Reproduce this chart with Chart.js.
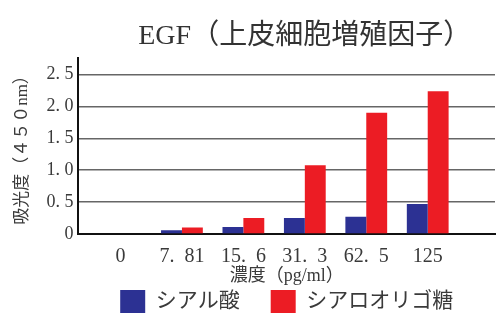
<!DOCTYPE html>
<html>
<head>
<meta charset="utf-8">
<script src="https://cdn.jsdelivr.net/npm/chart.js@4"></script>
<style>
  html, body { margin: 0; padding: 0; background: #fff; }
  #wrap { width: 504px; height: 334px; }
</style>
</head>
<body>
<div id="wrap"><canvas id="myChart"></canvas></div>
<script>
// concentrations (pg/ml)
var concLabels = ["0", "7.\u200281", "15.\u20026", "31.\u20023", "62.\u20025", "125"];
var sialicAcid = [0, 0.06, 0.11, 0.25, 0.27, 0.47];
var sialylOligo = [0, 0.1, 0.25, 1.08, 1.9, 2.24];
var yTicks = ["0", "0. 5", "1. 0", "1. 5", "2. 0", "2. 5"];
var chartTitle = "EGF（上皮細胞増殖因子）";

var fontFam = "'Liberation Serif', 'Noto Sans CJK JP', serif";
var textColor = "#3a3a3a";

function toPoints(arr) {
  return arr.map(function(v, i) { return {x: i, y: v}; });
}

// title sits a little right of the plot centre, so draw it by hand
var titlePlugin = {
  id: "offsetTitle",
  afterDraw: function(chart) {
    var c = chart.ctx;
    var area = chart.chartArea;
    c.save();
    c.font = "28px " + fontFam;
    c.fillStyle = "#333";
    c.textAlign = "center";
    c.textBaseline = "middle";
    c.fillText(chartTitle, (area.left + area.right) / 2 + 18, area.top - 21);
    c.restore();
  }
};

var ctx = document.getElementById("myChart").getContext("2d");
var myChart = new Chart(ctx, {
  type: "bar",
  data: {
    datasets: [{
      label: "シアル酸\u3000",
      data: toPoints(sialicAcid),
      backgroundColor: "#2c3193",
      borderWidth: 0,
      categoryPercentage: 0.68,
      barPercentage: 1
    }, {
      label: "シアロオリゴ糖",
      data: toPoints(sialylOligo),
      backgroundColor: "#ec1c24",
      borderWidth: 0,
      categoryPercentage: 0.68,
      barPercentage: 1
    }]
  },
  plugins: [titlePlugin],
  options: {
    responsive: true,
    maintainAspectRatio: false,
    animation: false,
    layout: { padding: { left: 12, right: 9, top: 58, bottom: 11 } },
    plugins: {
      title: { display: false },
      legend: {
        position: "bottom",
        fullSize: false,
        labels: {
          color: textColor,
          font: { family: fontFam, size: 21 },
          boxWidth: 25,
          boxHeight: 23,
          padding: 10
        }
      },
      tooltip: { enabled: false }
    },
    scales: {
      x: {
        type: "linear",
        min: -0.12,
        max: 5.53,
        grid: { display: false, drawTicks: false },
        border: { display: true, color: "#111", width: 2 },
        ticks: {
          stepSize: 1,
          includeBounds: false,
          maxRotation: 0,
          color: textColor,
          font: { family: fontFam, size: 20, lineHeight: 1 },
          padding: 13,
          callback: function(v) { return concLabels[v]; }
        },
        title: {
          display: true,
          text: "濃度（pg/ml）",
          color: textColor,
          font: { family: fontFam, size: 18, lineHeight: 1 },
          padding: { top: -13, bottom: -5 }
        }
      },
      y: {
        min: 0,
        max: 2.76,
        grid: { color: "#666", lineWidth: 1.5, drawTicks: false },
        border: { display: true, color: "#111", width: 2 },
        ticks: {
          stepSize: 0.5,
          includeBounds: false,
          color: textColor,
          font: { family: fontFam, size: 18 },
          padding: 5,
          callback: function(v) { return yTicks[Math.round(v * 2)]; }
        },
        title: {
          display: true,
          text: "吸光度（４５０nm）",
          color: textColor,
          font: { family: fontFam, size: 17 },
          padding: { top: 0, bottom: 9 }
        }
      }
    }
  }
});
</script>
</body>
</html>
